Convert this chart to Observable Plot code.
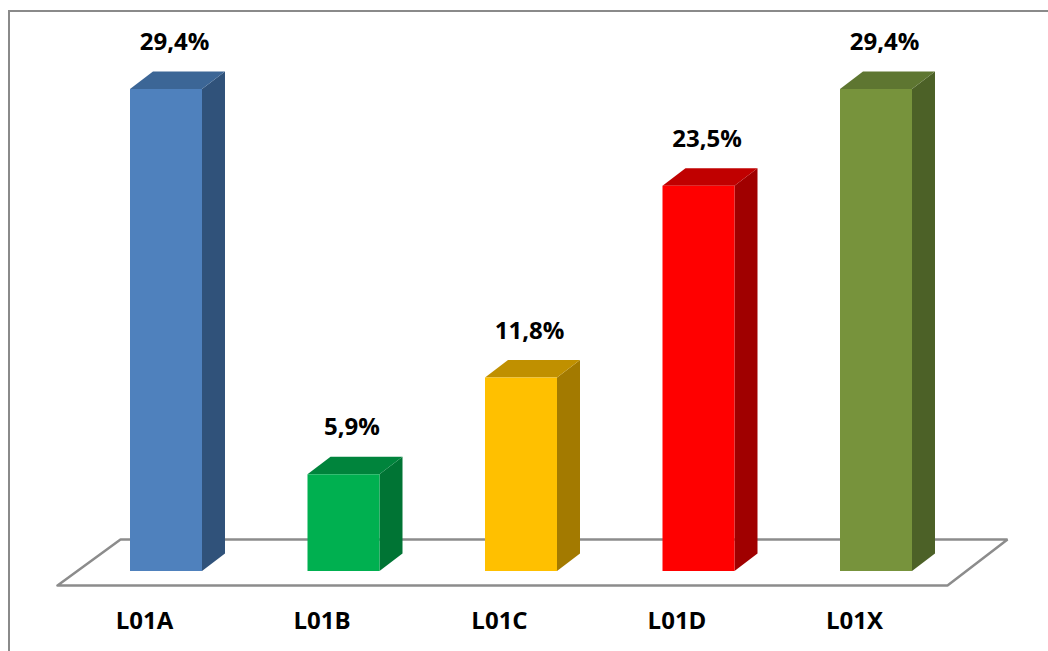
<!DOCTYPE html>
<html><head><meta charset="utf-8">
<script src="https://cdn.jsdelivr.net/npm/d3@7"></script>
<script src="https://cdn.jsdelivr.net/npm/@observablehq/plot@0.6"></script>
<style>
html,body{margin:0;padding:0;background:#fff;overflow:hidden;}
#wrap{position:relative;width:1048px;height:651px;overflow:hidden;}
#frame{position:absolute;left:8px;top:10px;width:2000px;height:2000px;border-left:2px solid #8a8a8a;border-top:2px solid #8a8a8a;pointer-events:none;}
#wrap svg{position:absolute;left:0;top:0;}
</style></head><body><div id="wrap"><div id="frame"></div></div>
<script>
const categories = ["L01A", "L01B", "L01C", "L01D", "L01X"];
const values = [29.4, 5.9, 11.8, 23.5, 29.4];
const frontColors = ["#4F81BD", "#00B050", "#FFC000", "#FF0000", "#77933C"];
const topColors = ["#3C6696", "#00843C", "#C09000", "#C00000", "#5E7631"];
const sideColors = ["#30527A", "#007434", "#A37A00", "#A00000", "#4C6127"];

const W = 1048, H = 651;
const X0 = 166, X1 = 876;           // pixel centers of first / last bar
const Y0 = 571, YTOP = 89;          // baseline and top of tallest bar
const vmax = d3.max(values);
const pxX = (X1 - X0) / (categories.length - 1);
const pxY = (Y0 - YTOP) / vmax;
const half = 36 / pxX;              // half front width in x units
const dX = 23 / pxX, dY = 17.5 / pxY; // 3D depth in data units

const fmt = v => d3.format(".1f")(v).replace(".", ",") + "%";
const data = categories.map((c, i) => ({i, category: c, value: values[i],
  front: frontColors[i], topc: topColors[i], side: sideColors[i]}));

// side faces
const sideFaces = data.flatMap(d => [
  {k: d.category, x: d.i + half, y1: 0, y2: d.value, fill: d.side},
  {k: d.category, x: d.i + half + dX, y1: dY, y2: d.value + dY, fill: d.side}
]);
// top faces
const topFaces = data.flatMap(d => [
  {k: d.category, x: d.i - half, y1: d.value, y2: d.value, fill: d.topc},
  {k: d.category, x: d.i - half + dX, y1: d.value, y2: d.value + dY, fill: d.topc},
  {k: d.category, x: d.i + half, y1: d.value, y2: d.value + dY, fill: d.topc},
  {k: d.category, x: d.i + half + dX, y1: d.value + dY, y2: d.value + dY, fill: d.topc}
]);
// floor (decorative plane)
const fF = -14 / pxY, fB = 32 / pxY;
const last = categories.length - 1;
const floorPts = [
  {x: -109 / pxX, y: fF}, {x: last + 71 / pxX, y: fF},
  {x: last + 131 / pxX, y: fB}, {x: -46 / pxX, y: fB}, {x: -109 / pxX, y: fF}
];

const font = "'Open Sans', 'Liberation Sans', sans-serif";
const chart = Plot.plot({
  width: W, height: H,
  margin: 0,
  x: {type: "linear", domain: [0, last], range: [X0, X1], axis: null},
  y: {type: "linear", domain: [0, vmax], range: [Y0, YTOP], axis: null},
  color: {type: "identity"},
  style: {background: "transparent", fontFamily: font},
  marks: [
    Plot.line(floorPts, {x: "x", y: "y", fill: "white", stroke: "#8c8c8c", strokeWidth: 2.5, strokeLinejoin: "miter"}),
    Plot.areaY(sideFaces, {x: "x", y1: "y1", y2: "y2", z: "k", fill: "fill", curve: "linear"}),
    Plot.areaY(topFaces, {x: "x", y1: "y1", y2: "y2", z: "k", fill: "fill", curve: "linear"}),
    Plot.rect(data, {x1: d => d.i - half, x2: d => d.i + half, y1: 0, y2: "value", fill: "front"}),
    Plot.text(data, {x: "i", y: "value", text: d => fmt(d.value), dy: -47, dx: 8,
      fontSize: 24, fontWeight: 700, fill: "black", textAnchor: "middle"}),
    Plot.text(data, {x: "i", y: 0, text: "category", dy: 50, dx: -22,
      fontSize: 24, fontWeight: 700, fill: "black", textAnchor: "middle"})
  ]
});
document.getElementById("wrap").appendChild(chart);
</script>
</body></html>
